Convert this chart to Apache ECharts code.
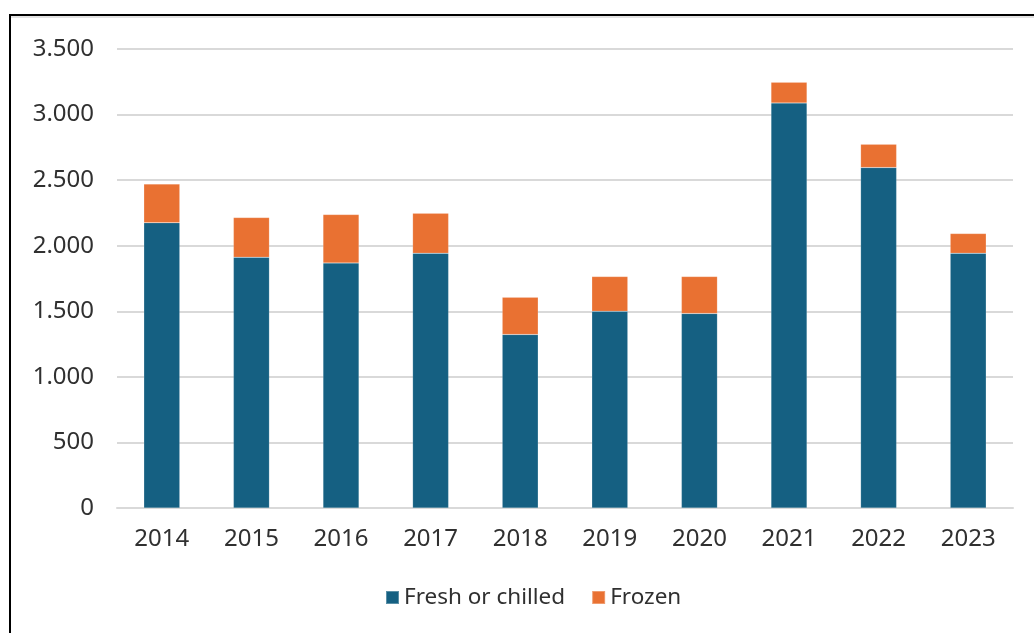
<!DOCTYPE html>
<html lang="en">
<head>
    <meta charset="UTF-8">
    <title>Fresh or chilled vs Frozen</title>
    <script type="text/javascript" src="https://cdn.jsdelivr.net/npm/echarts@6/dist/echarts.min.js"></script>
    <style>
        html, body { margin: 0; padding: 0; background: #fff; overflow: hidden; }
        #frame {
            position: absolute; left: 9px; top: 14px; width: 1200px; height: 800px;
            border-top: 2.5px solid #000; border-left: 2.5px solid #000;
            box-shadow: inset 0 2px 0 #e3e3e3;
            pointer-events: none;
        }
    </style>
</head>
<body>
<div id="main" style="width: 1034px;height:633px"></div>
<div id="frame"></div>

<script type="text/javascript">
    var years = ['2014', '2015', '2016', '2017', '2018', '2019', '2020', '2021', '2022', '2023'];
    var freshChilled = [2175, 1912, 1869, 1943, 1323, 1500, 1483, 3089, 2596, 1943];
    var frozen = [295, 303, 369, 305, 284, 265, 282, 158, 178, 150];

    var chartDom = document.getElementById('main');
    var myChart = echarts.init(chartDom);
    var fontName = 'Noto Sans';
    var option;

    option = {
        animation: false,
        textStyle: { fontFamily: fontName },
        grid: { left: 117, right: 21, top: 49, bottom: 125 },
        legend: {
            left: 380,
            top: 581,
            itemWidth: 13,
            itemHeight: 13,
            itemGap: 26,
            icon: 'rect',
            textStyle: { fontSize: 22.5, color: '#303030', fontFamily: fontName },
            data: ['Fresh or chilled', 'Frozen']
        },
        xAxis: {
            type: 'category',
            data: years,
            axisTick: { show: false },
            axisLine: { lineStyle: { color: '#d9d9d9', width: 2 } },
            axisLabel: { fontSize: 24, color: '#303030', margin: 19, fontFamily: fontName }
        },
        yAxis: {
            type: 'value',
            min: 0,
            max: 3500,
            interval: 500,
            axisLine: { show: false },
            axisTick: { show: false },
            splitLine: { lineStyle: { color: '#d9d9d9', width: 2 } },
            axisLabel: {
                fontSize: 24,
                color: '#303030',
                margin: 23,
                fontFamily: fontName,
                formatter: function (v) {
                    return String(v).replace(/\B(?=(\d{3})+(?!\d))/g, '.');
                }
            }
        },
        series: [
            {
                name: 'Fresh or chilled',
                type: 'bar',
                stack: 'total',
                barWidth: 36,
                data: freshChilled,
                itemStyle: { color: '#156082', borderColor: 'rgba(255,255,255,0.3)', borderWidth: 0.5 }
            },
            {
                name: 'Frozen',
                type: 'bar',
                stack: 'total',
                barWidth: 36,
                data: frozen,
                itemStyle: { color: '#E97132', borderColor: 'rgba(255,255,255,0.3)', borderWidth: 0.5 }
            }
        ]
    };

    option && myChart.setOption(option);
</script>
</body>
</html>
